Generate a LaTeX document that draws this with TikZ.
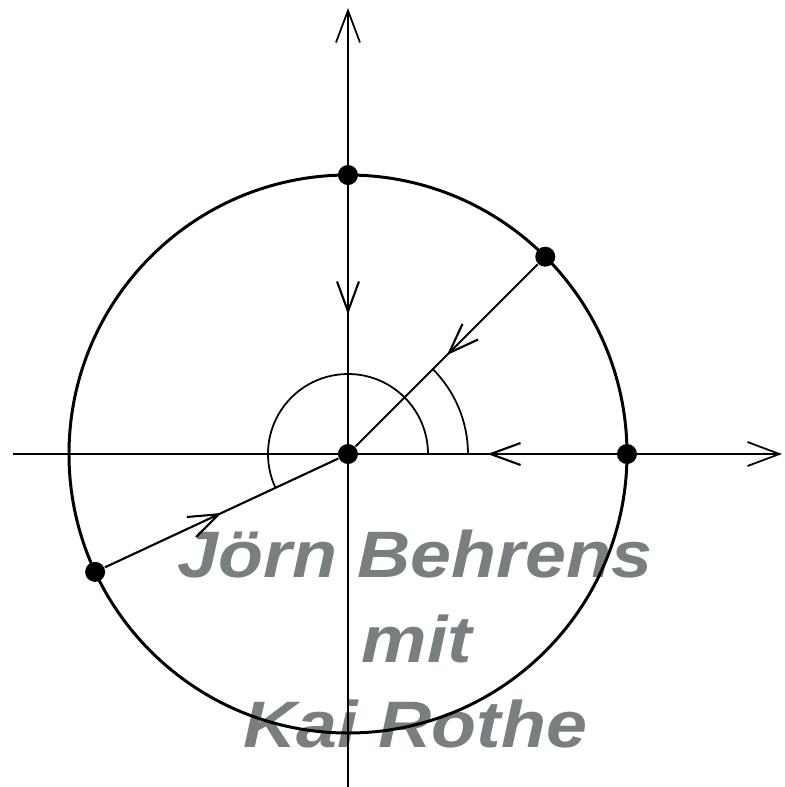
\documentclass[tikz,border=0pt]{standalone}
\usepackage{fontspec}
\newfontfamily\markfont[FakeStretch=1.12]{Liberation Sans}
\definecolor{markgray}{RGB}{121, 126, 129}
\usepackage{tikz}
\usetikzlibrary{arrows.meta, decorations.markings}

\begin{document}
\begin{tikzpicture}[
        pt/.style={circle, fill=black, inner sep=0pt, minimum size=0.2cm},
        midvee/.style={postaction={decorate, decoration={markings,
              mark=at position 0.5 with {\arrow{Straight Barb[length=0.3cm, width=0.22cm]}}}}},
        wm/.style={font=\markfont\bfseries\itshape\fontsize{18.7}{24}\selectfont,
              text=markgray, anchor=base, inner sep=0pt}
    ]
        \useasboundingbox (-3.48,-3.33) rectangle (4.36,4.54);

        % Name across the lower half
        \node[wm] (w1) at (0.67,-1.23) {Jörn Behrens};
        \node[wm] (w2) at (0.69,-2.08) {mit};
        \node[wm] (w3) at (0.675,-2.93) {Kai Rothe};

        % Axes
        \coordinate (xl) at (-3.35,0);
        \coordinate (xr) at (4.34,0);
        \coordinate (yb) at (0,-3.34);
        \coordinate (yt) at (0,4.46);
        \draw[line width=0.5pt, -{Straight Barb[length=0.32cm, width=0.24cm]}] (xl) -- (xr);
        \draw[line width=0.5pt, -{Straight Barb[length=0.32cm, width=0.24cm]}] (yb) -- (yt);

        % Unit circle
        \draw[line width=0.85pt] (0,0) circle (2.79);

        % Angle arcs
        \draw[line width=0.5pt] (0.8,0) arc (0:205:0.8);
        \draw[line width=0.5pt] (1.2,0) arc (0:45:1.2);

        % Points on the circle and the origin
        \node[pt] (o) at (0,0) {};
        \node[pt] (p0) at (0:2.79) {};
        \node[pt] (p45) at (45:2.79) {};
        \node[pt] (p90) at (90:2.79) {};
        \node[pt] (p205) at (205:2.79) {};

        % Rays into the origin
        \draw[line width=0.6pt, midvee] (p0) -- (o);
        \draw[line width=0.6pt, midvee] (p45) -- (o);
        \draw[line width=0.6pt, midvee] (p90) -- (o);
        \draw[line width=0.6pt, midvee] (p205) -- (o);
    \end{tikzpicture}
\end{document}
